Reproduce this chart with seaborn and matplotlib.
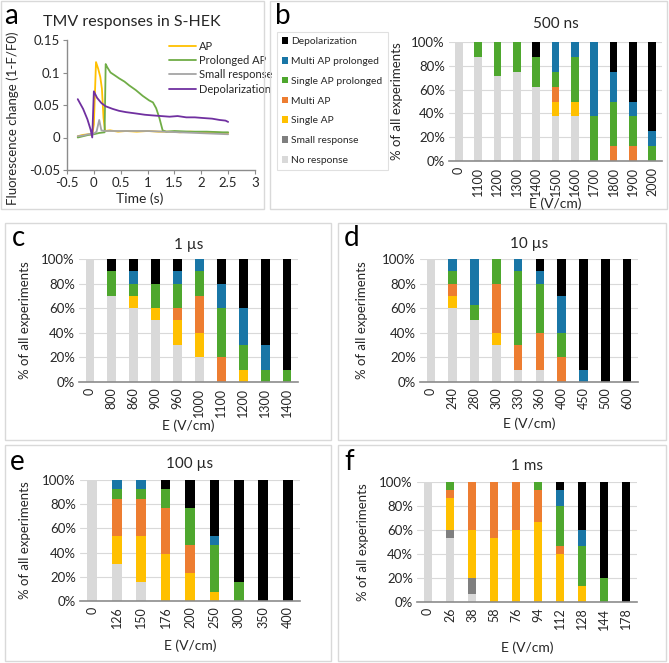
import numpy as np
import pandas as pd
import matplotlib
matplotlib.use('Agg')
import matplotlib.pyplot as plt
import seaborn as sns
from matplotlib.patches import Rectangle, Patch

W, H = 669, 663

# response categories, bottom to top of each stacked bar
cats = ['No response', 'Small response', 'Single AP', 'Multi AP',
        'Single AP prolonged', 'Multi AP prolonged', 'Depolarization']
cat_colors = ['#D9D9D9', '#7F7F7F', '#FFC000', '#ED7D31',
              '#4EA72E', '#1976A6', '#000000']

# panel a: fluorescence traces
t_ap = [-0.3, -0.2, -0.1, -0.03, 0.0, 0.04, 0.08, 0.12, 0.15, 0.18, 0.21, 0.3, 0.45, 0.6, 0.8, 1.0,
        1.2, 1.4, 1.6, 1.8, 2.0, 2.2, 2.4, 2.5]
v_ap = [0.002, 0.004, 0.005, 0.005, 0.02, 0.116, 0.106, 0.093, 0.075, 0.03, 0.01, 0.011, 0.009, 0.01,
        0.009, 0.01, 0.009, 0.009, 0.008, 0.009, 0.008, 0.008, 0.007, 0.007]
t_pap = [-0.3, -0.2, -0.1, 0.0, 0.1, 0.2, 0.22, 0.25, 0.31, 0.4, 0.47, 0.57, 0.66, 0.78, 0.91, 1.03,
         1.1, 1.16, 1.22, 1.28, 1.35, 1.5, 1.8, 2.1, 2.4, 2.5]
v_pap = [0.0, 0.002, 0.004, 0.005, 0.007, 0.008, 0.113, 0.108, 0.1, 0.095, 0.091, 0.086, 0.08, 0.073,
         0.064, 0.057, 0.054, 0.045, 0.03, 0.011, 0.009, 0.01, 0.009, 0.009, 0.008, 0.008]
t_small = [-0.3, -0.2, -0.1, 0.0, 0.05, 0.1, 0.14, 0.2, 0.4, 0.7, 1.0, 1.3, 1.6, 1.9, 2.2, 2.5]
v_small = [0.002, 0.003, 0.005, 0.006, 0.009, 0.027, 0.011, 0.01, 0.01, 0.01, 0.01, 0.009, 0.008,
           0.007, 0.006, 0.005]
t_dep = [-0.3, -0.2, -0.12, -0.06, -0.03, 0.0, 0.06, 0.14, 0.22, 0.35, 0.47, 0.6, 0.78, 0.95, 1.09,
         1.25, 1.41, 1.56, 1.72, 1.88, 2.03, 2.2, 2.34, 2.45, 2.5]
v_dep = [0.059, 0.044, 0.028, 0.012, 0.0, 0.071, 0.061, 0.053, 0.048, 0.044, 0.041, 0.039, 0.037,
         0.035, 0.034, 0.033, 0.032, 0.033, 0.031, 0.031, 0.03, 0.029, 0.027, 0.026, 0.024]

# panel b: 500 ns
E_500ns = ['0', '1100', '1200', '1300', '1400', '1500', '1600', '1700', '1800', '1900', '2000']
pct_500ns = [
    [100, 87.5, 71.4, 75, 62.5, 37.5, 37.5, 0, 0, 0, 0],
    [0, 0, 0, 0, 0, 0, 0, 0, 0, 0, 0],
    [0, 0, 0, 0, 0, 12.5, 12.5, 0, 0, 0, 0],
    [0, 0, 0, 0, 0, 12.5, 0, 0, 12.5, 12.5, 0],
    [0, 12.5, 28.6, 25, 25, 12.5, 37.5, 37.5, 37.5, 25, 12.5],
    [0, 0, 0, 0, 0, 25, 12.5, 62.5, 25, 12.5, 12.5],
    [0, 0, 0, 0, 12.5, 0, 0, 0, 25, 50, 75],
]

# panel c: 1 us
E_1us = ['0', '800', '860', '900', '960', '1000', '1100', '1200', '1300', '1400']
pct_1us = [
    [100, 70, 60, 50, 30, 20, 0, 0, 0, 0],
    [0, 0, 0, 0, 0, 0, 0, 0, 0, 0],
    [0, 0, 10, 10, 20, 20, 0, 10, 0, 0],
    [0, 0, 0, 0, 10, 30, 20, 0, 0, 0],
    [0, 20, 10, 20, 20, 20, 40, 20, 10, 10],
    [0, 0, 10, 0, 10, 10, 20, 30, 20, 0],
    [0, 10, 10, 20, 10, 0, 20, 40, 70, 90],
]

# panel d: 10 us
E_10us = ['0', '240', '280', '300', '330', '360', '400', '450', '500', '600']
pct_10us = [
    [100, 60, 50, 30, 10, 10, 0, 0, 0, 0],
    [0, 0, 0, 0, 0, 0, 0, 0, 0, 0],
    [0, 10, 0, 10, 0, 0, 0, 0, 0, 0],
    [0, 10, 0, 40, 20, 30, 20, 0, 0, 0],
    [0, 10, 12.5, 20, 60, 40, 20, 0, 0, 0],
    [0, 10, 37.5, 0, 10, 10, 30, 10, 0, 0],
    [0, 0, 0, 0, 0, 10, 30, 90, 100, 100],
]

# panel e: 100 us
E_100us = ['0', '126', '150', '176', '200', '250', '300', '350', '400']
pct_100us = [
    [100, 30.8, 15.4, 0, 0, 0, 0, 0, 0],
    [0, 0, 0, 0, 0, 0, 0, 0, 0],
    [0, 23.1, 38.5, 38.5, 23.1, 7.7, 0, 0, 0],
    [0, 30.8, 30.8, 38.5, 23.1, 0, 0, 0, 0],
    [0, 7.7, 7.7, 15.4, 30.8, 38.5, 15.4, 0, 0],
    [0, 7.7, 7.7, 0, 0, 7.7, 0, 0, 0],
    [0, 0, 0, 7.7, 23.1, 46.2, 84.6, 100, 100],
]

# panel f: 1 ms
E_1ms = ['0', '26', '38', '58', '76', '94', '112', '128', '144', '178']
pct_1ms = [
    [100, 53.3, 6.7, 0, 0, 0, 0, 0, 0, 0],
    [0, 6.7, 13.3, 0, 0, 0, 0, 0, 0, 0],
    [0, 26.7, 40, 53.3, 60, 66.7, 40, 13.3, 0, 0],
    [0, 6.7, 40, 46.7, 40, 26.7, 6.7, 0, 0, 0],
    [0, 6.7, 0, 0, 0, 6.7, 33.3, 33.3, 20, 0],
    [0, 0, 0, 0, 0, 0, 13.3, 13.3, 0, 0],
    [0, 0, 0, 0, 0, 0, 6.7, 40, 80, 100],
]

sns.set_theme(style='white')
plt.rcParams['font.family'] = ['Lato', 'DejaVu Sans']
txt = '#262626'
axcol = '#8C8C8C'


def rect(x0, y0, x1, y1):
    return [x0 / W, 1 - y1 / H, (x1 - x0) / W, (y1 - y0) / H]


def fx(x):
    return x / W


def fy(y):
    return 1 - y / H


fig = plt.figure(figsize=(W / 100, H / 100), dpi=100)

# panel boxes
for x0, y0, x1, y1 in [(1, 1, 264, 209), (270, 1, 667, 209), (5, 223, 331, 440),
                       (338, 223, 666, 440), (5, 445, 331, 661), (338, 445, 666, 661)]:
    fig.patches.append(Rectangle((fx(x0), fy(y1)), (x1 - x0) / W, (y1 - y0) / H,
                                 transform=fig.transFigure, fill=False,
                                 edgecolor='#D9D9D9', linewidth=1))

# panel letters
for lab, x, y in [('a', 4, 16), ('b', 275, 16), ('c', 12, 238), ('d', 344, 238),
                  ('e', 10, 462), ('f', 344, 462)]:
    fig.text(fx(x), fy(y), lab, fontsize=20, va='center', ha='left', color='black')

# ---- panel a
ax = fig.add_axes(rect(67, 40, 255, 170))
lines = [('AP', t_ap, v_ap, '#FFC000'),
         ('Prolonged AP', t_pap, v_pap, '#70AD47'),
         ('Small response', t_small, v_small, '#A5A5A5'),
         ('Depolarization', t_dep, v_dep, '#7030A0')]
for name, t, v, c in lines:
    sns.lineplot(x=t, y=v, ax=ax, color=c, linewidth=1.3, label=name, sort=False)
ax.set_xlim(-0.5, 3)
ax.set_ylim(-0.05, 0.15)
ax.set_xticks(np.arange(-0.5, 3.01, 0.5))
ax.set_xticklabels(['-0.5', '0', '0.5', '1', '1.5', '2', '2.5', '3'])
ax.set_yticks([-0.05, 0, 0.05, 0.1, 0.15])
ax.set_yticklabels(['-0.05', '0', '0.05', '0.1', '0.15'])
for s in ['top', 'right']:
    ax.spines[s].set_visible(False)
for s in ['left', 'bottom']:
    ax.spines[s].set_color(axcol)
    ax.spines[s].set_linewidth(1)
ax.tick_params(direction='out', length=3, width=0.8, color=axcol, labelsize=9.5,
               labelcolor=txt, pad=2, left=True, bottom=True)
ax.set_xlabel('')
ax.set_ylabel('')
fig.text(fx(140), fy(199), 'Time (s)', fontsize=10, ha='center', va='center', color=txt)
fig.text(fx(13), fy(118), 'Fluorescence change (1-F/F0)', fontsize=9.5, ha='center',
         va='center', rotation=90, color=txt)
ax.legend(loc='upper left', bbox_to_anchor=(0.52, 1.03), frameon=False, fontsize=8,
          handlelength=2.4, handletextpad=0.3, labelspacing=0.3, borderaxespad=0)
fig.text(fx(132), fy(22), 'TMV responses in S-HEK', fontsize=11.5, ha='center',
         va='center', color=txt)


def bar_panel(box, labels, pct, title, title_y, xlab_y, ylab_x):
    ax = fig.add_axes(rect(*box))
    cum = np.cumsum(np.array(pct, dtype=float), axis=0)
    for k in range(len(cats) - 1, -1, -1):
        sns.barplot(x=labels, y=cum[k], order=labels, color=cat_colors[k], ax=ax,
                    width=0.4, saturation=1, linewidth=0, errorbar=None, zorder=2)
    ax.set_ylim(0, 100)
    ax.set_xlim(-0.5, len(labels) - 0.5)
    ax.set_yticks(range(0, 101, 20))
    ax.set_yticklabels([f'{v}%' for v in range(0, 101, 20)])
    ax.yaxis.grid(True, color='#D9D9D9', linewidth=0.8, zorder=0)
    ax.set_axisbelow(True)
    for s in ['top', 'right', 'left']:
        ax.spines[s].set_visible(False)
    ax.spines['bottom'].set_color(axcol)
    ax.spines['bottom'].set_linewidth(1.2)
    ax.spines['bottom'].set_zorder(3)
    ax.tick_params(axis='x', rotation=90, labelsize=9, labelcolor=txt, length=0, pad=4)
    ax.tick_params(axis='y', labelsize=9.5, labelcolor=txt, length=0, pad=3)
    ax.set_xlabel('')
    ax.set_ylabel('')
    x0, y0, x1, y1 = box
    xc = (x0 + x1) / 2
    fig.text(fx(xc), fy(title_y), title, fontsize=11, ha='center', va='center', color=txt)
    fig.text(fx(xc), fy(xlab_y), 'E (V/cm)', fontsize=10, ha='center', va='center', color=txt)
    fig.text(fx(ylab_x), fy((y0 + y1) / 2), '% of all experiments', fontsize=9.5,
             ha='center', va='center', rotation=90, color=txt)
    return ax


bar_panel((449, 42, 662, 161), E_500ns, pct_500ns, '500 ns', 24, 204, 397)
bar_panel((79, 259, 298, 382), E_1us, pct_1us, '1 µs', 245, 426, 25)
bar_panel((420, 259, 638, 382), E_10us, pct_10us, '10 µs', 244, 424, 362)
bar_panel((80, 480, 300, 601), E_100us, pct_100us, '100 µs', 464, 646, 25)
bar_panel((417, 482, 637, 602), E_1ms, pct_1ms, '1 ms', 466, 648, 363)

# legend for the response categories (panel b)
handles = [Patch(facecolor=cat_colors[k], edgecolor='none', label=cats[k])
           for k in range(len(cats) - 1, -1, -1)]
leg = fig.legend(handles=handles, loc='upper left', bbox_to_anchor=(fx(277), fy(32)),
                 fontsize=7.4, frameon=True, fancybox=False, handlelength=0.6,
                 handleheight=0.6, handletextpad=0.3, labelspacing=1.05,
                 borderpad=0.5, borderaxespad=0)
leg.get_frame().set_edgecolor('#D9D9D9')
leg.get_frame().set_linewidth(0.8)
for t in leg.get_texts():
    t.set_color(txt)

fig.savefig('out.png', dpi=100)
